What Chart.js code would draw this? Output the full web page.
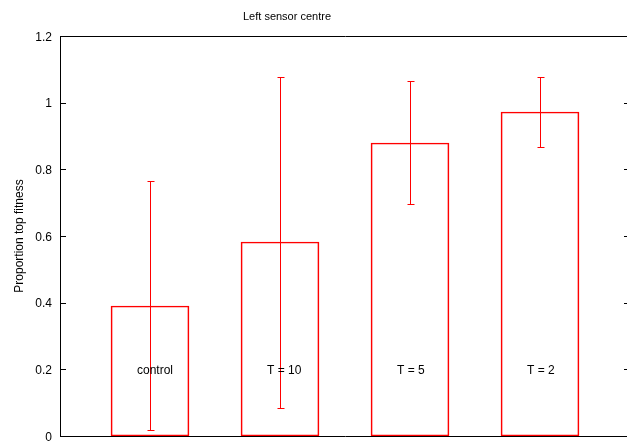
<!DOCTYPE html>
<html>
<head>
<meta charset="utf-8">
<script src="https://cdn.jsdelivr.net/npm/chart.js@4/dist/chart.umd.min.js"></script>
<style>
  html, body { margin: 0; padding: 0; background: #fff; overflow: hidden; }
  #wrap { width: 634px; height: 444px; }
</style>
</head>
<body>
<div id="wrap"><canvas id="c" width="634" height="444"></canvas></div>
<script>
// ---- data ----
const chartTitle = 'Left sensor centre';
const yAxisTitle = 'Proportion top fitness';
const categories = ['control', 'T = 10', 'T = 5', 'T = 2'];
const xPositions = [0, 1, 2, 3];
const means = [0.39, 0.582, 0.879, 0.972];
const errLow = [0.018, 0.084, 0.696, 0.867];
const errHigh = [0.765, 1.077, 1.065, 1.077];
const yTicks = [0, 0.2, 0.4, 0.6, 0.8, 1, 1.2];

const RED = '#ff0000';
const FONT = 'Liberation Sans, Arial, Helvetica, sans-serif';

const decor = {
  id: 'decor',
  beforeDatasetsDraw(chart) {
    const { ctx, chartArea: a, scales } = chart;
    ctx.save();
    ctx.strokeStyle = '#000';
    ctx.lineWidth = 1;
    ctx.beginPath();
    ctx.rect(Math.round(a.left) + 0.5, Math.round(a.top) + 0.5,
             Math.round(a.right - a.left), Math.round(a.bottom - a.top));
    ctx.stroke();
    // inward ticks on left and right
    ctx.beginPath();
    yTicks.forEach(v => {
      const y = Math.round(scales.y.getPixelForValue(v)) + 0.5;
      ctx.moveTo(a.left, y); ctx.lineTo(a.left + 6, y);
      ctx.moveTo(a.right - 6, y); ctx.lineTo(a.right, y);
    });
    ctx.stroke();
    ctx.restore();
  },
  afterDatasetsDraw(chart) {
    const { ctx, scales } = chart;
    ctx.save();
    ctx.strokeStyle = RED;
    ctx.lineWidth = 1;
    ctx.beginPath();
    xPositions.forEach((xv, i) => {
      const x = Math.round(scales.x.getPixelForValue(xv)) + 0.5;
      const yl = Math.round(scales.y.getPixelForValue(errLow[i])) + 0.5;
      const yh = Math.round(scales.y.getPixelForValue(errHigh[i])) + 0.5;
      const ym = Math.round(scales.y.getPixelForValue(means[i])) + 0.5;
      ctx.moveTo(x, yl); ctx.lineTo(x, yh);
      ctx.moveTo(x - 3, yl); ctx.lineTo(x + 4, yl);
      ctx.moveTo(x - 3, yh); ctx.lineTo(x + 4, yh);
      ctx.moveTo(x - 2, ym); ctx.lineTo(x + 3, ym);
    });
    ctx.stroke();
    // labels inside bars
    ctx.fillStyle = '#000';
    ctx.font = '12px ' + FONT;
    ctx.textAlign = 'left';
    ctx.textBaseline = 'middle';
    xPositions.forEach((xv, i) => {
      const x = scales.x.getPixelForValue(xv - 0.1);
      const y = scales.y.getPixelForValue(0.2) + 1.5;
      ctx.fillText(categories[i], x, y);
    });
    // title
    ctx.font = '11px ' + FONT;
    ctx.textAlign = 'center';
    ctx.fillText(chartTitle, 287, 17);
    ctx.restore();
  }
};

new Chart(document.getElementById('c'), {
  type: 'bar',
  data: {
    datasets: [{
      data: xPositions.map((x, i) => ({ x: x, y: means[i] })),
      backgroundColor: 'rgba(0,0,0,0)',
      borderColor: RED,
      borderWidth: 1,
      borderSkipped: false,
      barThickness: 78
    }]
  },
  options: {
    responsive: false,
    devicePixelRatio: 1,
    animation: false,
    events: [],
    layout: { padding: { left: 0, top: 36, right: 4, bottom: 8 } },
    plugins: { legend: { display: false }, tooltip: { enabled: false }, title: { display: false } },
    scales: {
      x: {
        type: 'linear', min: -90 / 130, max: 480 / 130, display: false, offset: false
      },
      y: {
        min: 0, max: 1.2,
        afterFit(s) { s.width = 60; s.paddingTop = 0; s.paddingBottom = 0; },
        grid: { display: false, drawTicks: false },
        border: { display: false },
        ticks: {
          stepSize: 0.2, padding: 8, color: '#000', labelOffset: 1.5,
          font: { family: FONT, size: 12 },
          callback: v => String(+Number(v).toFixed(1))
        },
        title: {
          display: true, text: yAxisTitle, color: '#000',
          font: { family: FONT, size: 12 },
          padding: { top: 12, bottom: 0 }
        }
      }
    }
  },
  plugins: [decor]
});
</script>
</body>
</html>
